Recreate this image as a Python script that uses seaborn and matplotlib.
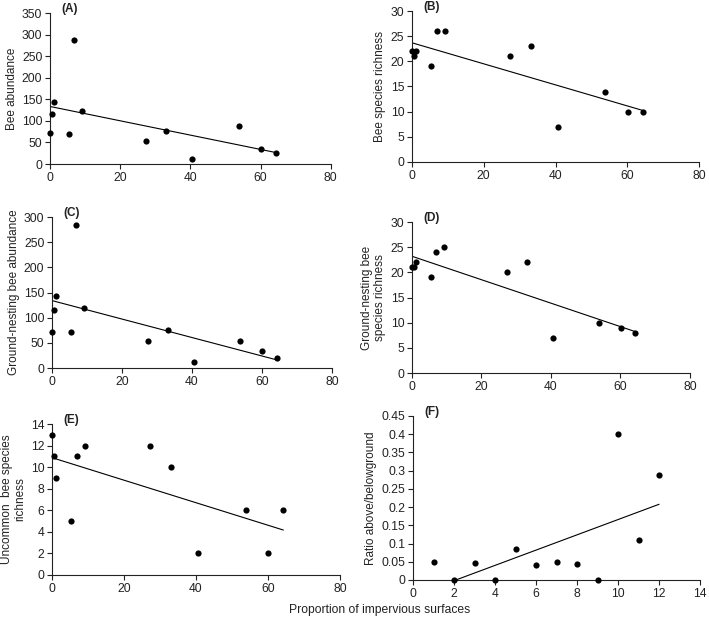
import matplotlib
matplotlib.use("Agg")
import matplotlib.pyplot as plt
import matplotlib.ticker as mticker
import seaborn as sns

# proportion of impervious surfaces for the 12 sites (panels A-E)
imperv = [0, 0.5, 1.2, 5.4, 6.9, 9.2, 27.3, 33.1, 40.6, 53.8, 60.1, 64.3]

bee_abund = [72, 115, 144, 70, 287, 122, 53, 76, 11, 89, 35, 25]
bee_rich = [22, 21, 22, 19, 26, 26, 21, 23, 7, 14, 10, 10]
ground_abund = [71, 116, 144, 71, 284, 120, 53, 75, 11, 54, 34, 20]
ground_rich = [21, 21, 22, 19, 24, 25, 20, 22, 7, 10, 9, 8]
uncommon_rich = [13, 11, 9, 5, 11, 12, 12, 10, 2, 6, 2, 6]

# panel F
ratio_x = [1, 2, 3, 4, 5, 6, 7, 8, 9, 10, 11, 12]
ratio_y = [0.048, 0, 0.046, 0, 0.084, 0.040, 0.050, 0.044, 0, 0.40, 0.111, 0.287]

sns.set_style("ticks")
plt.rcParams["font.family"] = ["Liberation Sans", "DejaVu Sans"]
plt.rcParams["axes.linewidth"] = 0.8
plt.rcParams["xtick.major.width"] = 0.8
plt.rcParams["ytick.major.width"] = 0.8
plt.rcParams["xtick.major.size"] = 3.5
plt.rcParams["ytick.major.size"] = 3.5
plt.rcParams["xtick.color"] = "#222222"
plt.rcParams["ytick.color"] = "#222222"
plt.rcParams["axes.edgecolor"] = "#222222"

fig = plt.figure(figsize=(7.09, 6.18), dpi=100)

panels = [
    # (rect, x, y, ylabel, tag, ymax, ystep, xmax, xstep)
    ([0.0705, 0.7346, 0.396, 0.2443], imperv, bee_abund, "Bee abundance", "(A)", 350, 50, 80, 20),
    ([0.581, 0.7379, 0.405, 0.2443], imperv, bee_rich, "Bee species richness", "(B)", 30, 5, 80, 20),
    ([0.0733, 0.4045, 0.395, 0.2443], imperv, ground_abund, "Ground-nesting bee abundance", "(C)", 300, 50, 80, 20),
    ([0.581, 0.3964, 0.392, 0.2443], imperv, ground_rich, "Ground-nesting bee\nspecies richness", "(D)", 30, 5, 80, 20),
    ([0.0733, 0.0696, 0.406, 0.2443], imperv, uncommon_rich, "Uncommon  bee species\nrichness", "(E)", 14, 2, 80, 20),
    ([0.5825, 0.0615, 0.405, 0.2654], ratio_x, ratio_y, "Ratio above/belowground", "(F)", 0.45, 0.05, 14, 2),
]

for rect, x, y, ylab, tag, ymax, ystep, xmax, xstep in panels:
    ax = fig.add_axes(rect)
    sns.regplot(x=x, y=y, ax=ax, ci=None,
                scatter_kws=dict(s=20, color="black", linewidths=0, alpha=1, clip_on=False, zorder=3),
                line_kws=dict(color="black", lw=0.8))
    ax.set_xlim(0, xmax)
    ax.set_ylim(0, ymax)
    ax.xaxis.set_major_locator(mticker.MultipleLocator(xstep))
    ax.yaxis.set_major_locator(mticker.MultipleLocator(ystep))
    ax.yaxis.set_major_formatter(mticker.FuncFormatter(lambda v, p: "%g" % round(v, 3)))
    ax.set_ylabel(ylab, fontsize=8.5, labelpad=3, color="#222222")
    ax.tick_params(labelsize=8.7, pad=2)
    ax.text(0.04, 0.99, tag, transform=ax.transAxes, fontsize=8.5,
            fontweight="bold", va="bottom", ha="left", color="#222222")
    sns.despine(ax=ax)

fig.text(0.536, 0.013, "Proportion of impervious surfaces", ha="center", va="center",
         fontsize=8.7, color="#222222")

fig.savefig("out.png", dpi=100)
plt.close(fig)
